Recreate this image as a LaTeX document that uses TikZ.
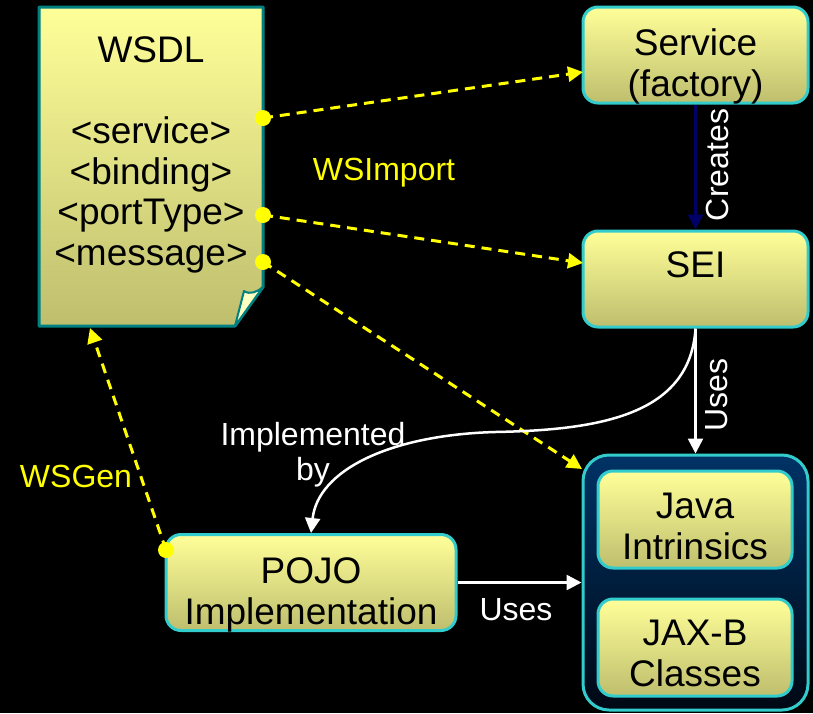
\documentclass[tikz,border=0pt]{standalone}
\usepackage{fontspec}
\setmainfont{Liberation Sans}
\usetikzlibrary{arrows.meta,calc}
\definecolor{boxtop}{RGB}{255,255,153}
\definecolor{boxbot}{RGB}{190,190,110}
\definecolor{boxline}{RGB}{51,204,204}
\definecolor{docline}{RGB}{0,128,128}
\definecolor{contop}{RGB}{0,51,102}
\definecolor{conbot}{RGB}{0,8,20}
\definecolor{navyline}{RGB}{0,0,102}
\definecolor{ylw}{RGB}{255,255,0}
\tikzset{
  ybox/.style={draw=boxline, line width=3pt, rounded corners=15pt, top color=boxtop, bottom color=boxbot, inner sep=0pt},
  btxt/.style={align=center, inner sep=0pt, font=\fontsize{37}{41}\selectfont, text=black},
  conbox/.style={draw=boxline, line width=3pt, rounded corners=26pt, top color=contop, bottom color=conbot, inner sep=0pt},
  lbl/.style={font=\fontsize{32}{35}\selectfont, align=center, inner sep=0pt},
  ydash/.style={draw=ylw, line width=3pt, dash pattern=on 10pt off 7pt, -{Triangle[length=15pt,width=15pt]}},
  wline/.style={draw=white, line width=2.5pt, -{Triangle[length=15pt,width=15pt]}},
  ydot/.style={fill=ylw, circle, inner sep=0pt, minimum size=16pt}
}
\begin{document}
\begin{tikzpicture}[x=1pt,y=-1pt]
\fill[black] (0,0) rectangle (813,713);
\useasboundingbox (0,0) rectangle (813,713);

% WSDL document
\shade[top color=boxtop, bottom color=boxbot] (39,7) -- (263,7) -- (263,287) -- (235,326) -- (39,326) -- cycle;
\draw[docline, line width=3pt, line join=round] (39,7) -- (263,7) -- (263,287) -- (235,326) -- (39,326) -- cycle;
\filldraw[fill=boxtop!60!white, draw=docline, line width=2pt, line join=round]
  (235,326) -- (244,291) .. controls (250,295) and (257,292) .. (263,287) -- cycle;
\node[align=center, inner sep=0pt, font=\fontsize{37}{40.6}\selectfont] (wsdl) at (151,155)
  {WSDL\\ \\<service>\\<binding>\\<portType>\\<message>};

% right column
\node[ybox, minimum width=225pt, minimum height=96pt] (service) at (695.5,55) {};
\node[btxt] (servicet) at (695.5,66) {Service\\(factory)};
\node[ybox, minimum width=225pt, minimum height=96pt] (sei) at (695.5,279) {};
\node[btxt] (seit) at (695.5,265) {SEI};
\node[conbox, minimum width=225pt, minimum height=255pt] (lib) at (695.5,582.5) {};
\node[ybox, minimum width=194pt, minimum height=97pt] (java) at (695,519.5) {};
\node[btxt] (javat) at (695,526) {Java\\Intrinsics};
\node[ybox, minimum width=194pt, minimum height=97pt] (jaxb) at (695,647.5) {};
\node[btxt] (jaxbt) at (695,653.5) {JAX-B\\Classes};
\node[ybox, minimum width=290pt, minimum height=96pt] (pojo) at (311,582.5) {};
\node[btxt] (pojot) at (311,595) {POJO\\Implementation};

% dots
\node[ydot] (d1) at (263,118) {};
\node[ydot] (d2) at (263,215) {};
\node[ydot] (d3) at (263,262) {};
\node[ydot] (d4) at (166,550) {};
\coordinate (svcin) at (583,72);
\coordinate (seiin) at (583,263);
\coordinate (libin) at (582,469);
\coordinate (docin) at (90,328);

\draw[ydash] (d1.center) -- (svcin);
\draw[ydash] (d2.center) -- (seiin);
\draw[ydash] (d3.center) -- (libin);
\draw[ydash] (d4.center) -- (docin);

\draw[draw=navyline, line width=3pt, -{Triangle[length=15pt,width=15pt]}] (service.south) -- (sei.north);
\draw[wline] (sei.south) -- (lib.north);
\draw[wline] (sei.south) .. controls (690,415) and (600,430) .. (495,432) .. controls (390,435) and (318,470) .. (pojo.north);
\draw[wline] (pojo.east) -- (lib.west);

% labels
\node[lbl, text=white, rotate=90] (lcreates) at (717,165) {Creates};
\node[lbl, text=white, rotate=90] (luses1) at (717,395) {Uses};
\node[lbl, text=white] (luses2) at (516,610) {Uses};
\node[lbl, text=white] (limpl) at (313,455) {Implemented\\by};
\node[lbl, text=ylw] (lwsi) at (384,173) {WSImport};
\node[lbl, text=ylw] (lwsg) at (76,476) {WSGen};
\end{tikzpicture}
\end{document}
